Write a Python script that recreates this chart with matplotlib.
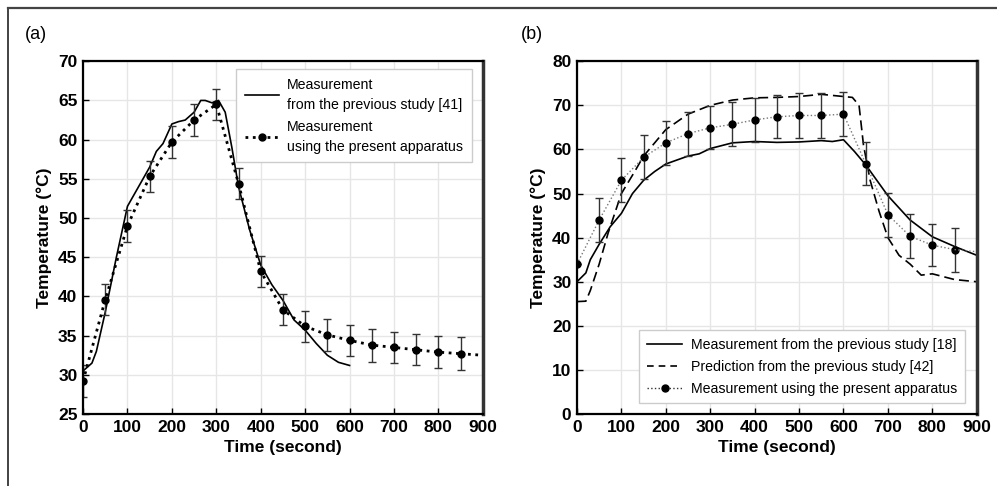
# Temperature curves, panels (a) and (b)

import matplotlib.pyplot as plt
from matplotlib.lines import Line2D

plt.rcParams['font.family'] = ['Liberation Sans', 'DejaVu Sans']

# ---- panel (a) data ----
t_a = [0, 50, 100, 150, 200, 250, 300, 350, 400, 450, 500, 550, 600, 650, 700, 750, 800, 850]
present_a = [29.2, 39.6, 49.0, 55.3, 59.7, 62.5, 64.5, 54.4, 43.2, 38.3, 36.2, 35.1, 34.4, 33.8, 33.5, 33.2, 32.9, 32.7]
err_a = [2.0, 2.0, 2.0, 2.0, 2.1, 2.0, 2.0, 2.0, 2.0, 2.0, 2.0, 2.0, 2.0, 2.1, 2.0, 2.0, 2.0, 2.1]
tail_t_a = [850, 900]
tail_a = [32.7, 32.5]

prev_t_a = [0, 10, 20, 30, 50, 75, 100, 125, 150, 165, 180, 200, 215, 230, 250, 265, 275,
            290, 305, 320, 335, 350, 375, 400, 425, 450, 475, 500, 525, 550, 575, 600]
prev_a = [30.5, 31.0, 31.5, 33.0, 38.0, 45.0, 51.5, 54.0, 56.5, 58.5, 59.5, 62.0, 62.3, 62.5,
          63.5, 65.0, 65.0, 64.7, 65.0, 63.5, 59.0, 54.0, 48.5, 44.0, 41.5, 39.5, 37.0, 35.7,
          34.0, 32.5, 31.6, 31.2]

# ---- panel (b) data ----
t_b = [0, 50, 100, 150, 200, 250, 300, 350, 400, 450, 500, 550, 600, 650, 700, 750, 800, 850]
present_b = [34.0, 44.0, 53.0, 58.2, 61.5, 63.6, 64.9, 65.7, 66.7, 67.4, 67.7, 67.7, 68.0, 56.8, 45.2, 40.3, 38.3, 37.3]
err_b = [0.0, 5.0, 5.0, 5.0, 5.0, 5.0, 4.9, 5.0, 5.0, 4.9, 5.0, 5.0, 5.0, 4.9, 5.0, 5.0, 4.8, 5.0]
tail_t_b = [850, 900]
tail_b = [37.3, 36.8]

prev_t_b = [0, 10, 20, 30, 50, 75, 100, 125, 150, 175, 200, 250, 275, 300, 350, 400, 450,
            500, 550, 575, 600, 625, 650, 675, 700, 750, 800, 850, 900]
prev_b = [30.0, 31.0, 32.0, 35.0, 38.5, 42.5, 45.5, 50.0, 53.0, 55.0, 56.7, 58.5, 59.0, 60.2,
          61.5, 61.8, 61.6, 61.7, 62.0, 61.8, 62.2, 59.5, 56.5, 53.0, 49.5, 44.0, 40.2, 38.0, 36.0]

pred_t_b = [0, 20, 30, 50, 70, 100, 130, 150, 175, 200, 250, 300, 350, 400, 450, 500, 550,
            600, 620, 635, 645, 660, 680, 700, 725, 750, 775, 800, 850, 900]
pred_b = [25.5, 25.6, 28.0, 34.0, 41.0, 50.0, 55.0, 58.5, 61.5, 64.5, 68.0, 70.0, 71.2, 71.7,
          71.8, 72.0, 72.5, 72.0, 71.8, 70.0, 61.0, 53.0, 46.0, 40.0, 36.0, 34.0, 31.5, 31.8,
          30.5, 30.0]

x_ticks = [0, 100, 200, 300, 400, 500, 600, 700, 800, 900]

fig = plt.figure(figsize=(9.97, 4.86), dpi=100)

# frame around the figure
fig.add_artist(Line2D([0.008, 0.008], [0, 0.984], transform=fig.transFigure, color='#222222', lw=1.2))
fig.add_artist(Line2D([0.008, 1.0], [0.984, 0.984], transform=fig.transFigure, color='#444444', lw=1.6))

ax1 = fig.add_axes([0.0833, 0.148, 0.401, 0.726])
ax2 = fig.add_axes([0.5787, 0.148, 0.401, 0.726])


def style(ax, yticks):
    ax.set_xlim(0, 900)
    ax.set_xticks(x_ticks)
    ax.set_yticks(yticks)
    ax.set_ylim(yticks[0], yticks[-1])
    ax.grid(True, color='#e6e6e6', lw=1.0)
    ax.set_axisbelow(True)
    ax.tick_params(direction='in', length=4, width=1, labelsize=12.5, pad=4)
    for lab in ax.get_xticklabels() + ax.get_yticklabels():
        lab.set_fontweight('bold')
    for sp in ax.spines.values():
        sp.set_linewidth(1.6)
    ax.spines['right'].set_linewidth(2.5)
    ax.spines['right'].set_color('#333333')
    ax.set_xlabel('Time (second)', fontsize=12.5, fontweight='bold', labelpad=4)
    ax.set_ylabel('Temperature (°C)', fontsize=12.5, fontweight='bold', labelpad=4)


# panel (a)
ax1.plot(prev_t_a, prev_a, '-', color='black', lw=1.2)
ax1.errorbar(t_a, present_a, yerr=err_a, fmt='none', ecolor='#333333', elinewidth=1.0, capsize=3, capthick=1.0)
ax1.plot(t_a, present_a, ':', color='black', lw=2.0, marker='o', ms=5)
ax1.plot(tail_t_a, tail_a, ':', color='black', lw=2.0)
style(ax1, [25, 30, 35, 40, 45, 50, 55, 60, 65, 70])

h1 = [Line2D([], [], ls='-', color='black', lw=1.2),
      Line2D([], [], ls=':', color='black', lw=2.0, marker='o', ms=5)]
leg1 = ax1.legend(h1, ['Measurement\nfrom the previous study [41]', 'Measurement\nusing the present apparatus'],
                  loc='upper right', bbox_to_anchor=(0.99, 0.997), fancybox=False, framealpha=1,
                  edgecolor='#cccccc', handlelength=2.4, handletextpad=0.6, borderpad=0.6,
                  labelspacing=0.55, prop={'size': 10.2})
for txt in leg1.get_texts():
    txt.set_linespacing(1.55)
leg1.get_frame().set_linewidth(1.0)

# panel (b)
ax2.plot(prev_t_b, prev_b, '-', color='black', lw=1.2)
ax2.plot(pred_t_b, pred_b, '--', color='black', lw=1.2, dashes=(6, 3))
ax2.errorbar(t_b, present_b, yerr=err_b, fmt='none', ecolor='#333333', elinewidth=1.0, capsize=3, capthick=1.0)
ax2.plot(t_b, present_b, ':', color='#777777', lw=1.0, marker='o', ms=5, mfc='black', mec='black')
ax2.plot(tail_t_b, tail_b, ':', color='#777777', lw=1.0)
style(ax2, [0, 10, 20, 30, 40, 50, 60, 70, 80])

h2 = [Line2D([], [], ls='-', color='black', lw=1.2),
      Line2D([], [], ls='--', color='black', lw=1.2, dashes=(4, 3)),
      Line2D([], [], ls=':', color='#333333', lw=1.0, marker='o', ms=5, mfc='black', mec='black')]
leg2 = ax2.legend(h2, ['Measurement from the previous study [18]',
                       'Prediction from the previous study [42]',
                       'Measurement using the present apparatus'],
                  loc='lower right', bbox_to_anchor=(0.988, 0.01), fancybox=False, framealpha=1,
                  edgecolor='#cccccc', handlelength=2.5, handletextpad=0.6, borderpad=0.55,
                  labelspacing=0.55, prop={'size': 10.2})
leg2.get_frame().set_linewidth(1.0)

fig.text(0.025, 0.93, '(a)', fontsize=13, va='center', ha='left')
fig.text(0.522, 0.93, '(b)', fontsize=13, va='center', ha='left')

fig.savefig('out.png', dpi=100)
